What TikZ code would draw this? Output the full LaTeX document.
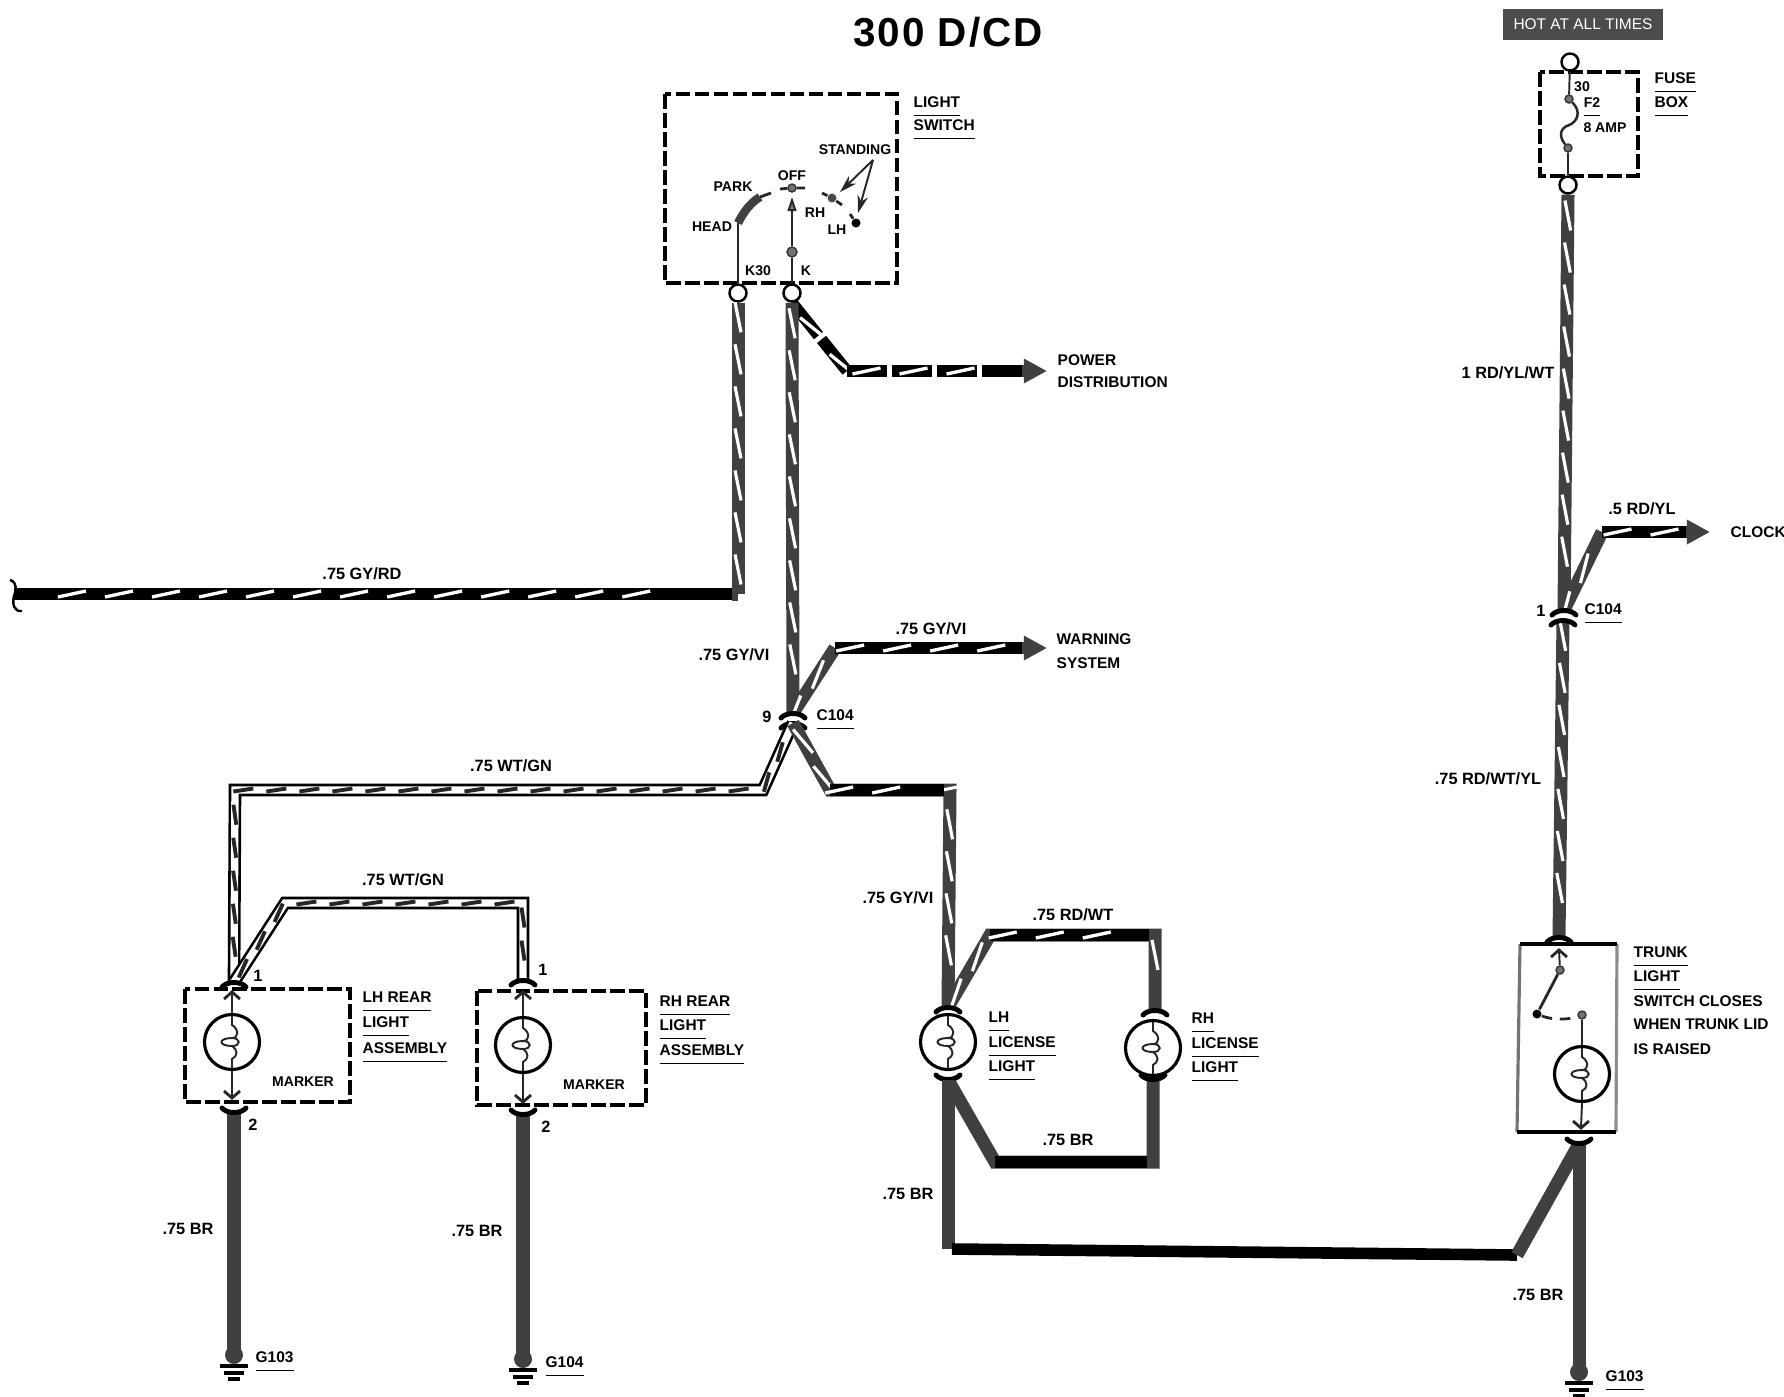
\documentclass[tikz,border=0pt]{standalone}
\usepackage{fontspec}
\setmainfont{Liberation Sans}
\usetikzlibrary{arrows.meta,decorations.markings}
\definecolor{wiregray}{gray}{0.25}
\newcommand{\ul}[1]{\underline{\rule[-0.7pt]{0pt}{1pt}#1}}

\begin{document}
\begin{tikzpicture}[x=0.01cm,y=-0.01cm]
    \tikzset{
        lbl/.style={inner sep=0pt,anchor=mid,yshift=0.95pt,font=\fontsize{4.65}{6}\selectfont\bfseries},
        lbls/.style={inner sep=0pt,anchor=mid,yshift=0.95pt,font=\fontsize{4}{5}\selectfont\bfseries},
        lblw/.style={inner sep=0pt,anchor=mid west,yshift=0.95pt,font=\fontsize{4.4}{6}\selectfont\bfseries},
        wgray/.style={draw=wiregray,line width=3.7pt,line join=miter},
        wblack/.style={draw=black,line width=3.3pt},
        wwhite/.style={draw=black,line width=3.6pt,postaction={draw=white,line width=2.1pt}},
        hslash/.style={postaction={decorate,decoration={markings,mark=between positions #1 and 0.9 step 0.47cm with {\draw[white,solid,-,line width=0.95pt] (-14,3)--(14,-3);}}}},
        hslash/.default=0.08,
        vslash/.style={postaction={decorate,decoration={markings,mark=between positions 0.05 and 0.94 step 0.42cm with {\draw[white,solid,-,line width=0.9pt] (-15,3)--(15,-3);}}}},
        gnslash/.style={postaction={decorate,decoration={markings,mark=between positions 0.04 and 0.97 step 0.33cm with {\draw[black!85,solid,-,line width=1.1pt] (-10,1.5)--(10,-1.5);}}}},
        dbox/.style={draw=black,line width=1.3pt,dash pattern=on 4.2pt off 1.2pt},
        tline/.style={draw=black!85,line width=0.55pt},
        term/.style={circle,draw=black,fill=white,line width=0.7pt,inner sep=0pt,minimum size=0.17cm},
        dotn/.style={circle,draw=black!80,fill=black!55,line width=0.4pt,inner sep=0pt,minimum size=0.08cm},
        lamp/.style={circle,draw=black,line width=0.9pt,inner sep=0pt,minimum size=0.55cm},
        tipg/.style={-{Triangle[length=6.6pt,width=6.6pt,color=wiregray]}},
        pics/cupd/.style={code={\draw[black,line width=1.4pt,line cap=round] (-12,5) .. controls (-7,-1) and (7,-1) .. (12,5);}},
        pics/cupu/.style={code={\draw[black,line width=1.4pt,line cap=round] (-12,-5) .. controls (-7,1) and (7,1) .. (12,-5);}},
        pics/vee/.style={code={\draw[tline,line width=0.8pt] (-8,-7) -- (0,0) -- (8,-7);}},
        pics/hat/.style={code={\draw[tline,line width=0.8pt] (-8,7) -- (0,0) -- (8,7);}},
        pics/filament/.style={code={
            \draw[tline] (0,-26) -- (0,-17) .. controls (7,-13) and (7,-4) .. (0,-4) .. controls (-14,-4) and (-14,4) .. (0,4) .. controls (9,4) and (9,-4) .. (0,-4);
            \draw[tline] (0,4) .. controls (6,8) and (6,14) .. (0,17) -- (0,26);}},
        pics/gnd/.style={code={
            \fill[wiregray] (0,-3) circle (9);
            \draw[black,line width=0.9pt] (-14,8) -- (14,8) (-10,15) -- (10,15) (-6,21) -- (6,21);}},
    }
    \useasboundingbox (0,0) rectangle (1784,1396);
    % title and hot bar
    \node[inner sep=0pt,font=\fontsize{11.5}{14}\selectfont\bfseries\addfontfeatures{LetterSpace=5}] (title) at (948,32) {300 D/CD};
    \node[fill=black!70,text=white,inner sep=0pt,minimum width=1.6cm,minimum height=0.31cm,font=\fontsize{4.4}{6}\selectfont] (hot) at (1583,24) {HOT AT ALL TIMES};

    % light switch
    \draw[dbox] (665,94) rectangle (897,283);
    \node[term] (k30) at (738,293) {};
    \node[term] (kk) at (792,293) {};
    \node[dotn,minimum size=0.1cm] (dotk) at (792,252) {};
    \node[dotn] (dotoff) at (792,188) {};
    \node[circle,fill=black!70,inner sep=0pt,minimum size=0.09cm] (dotrh) at (832,198) {};
    \node[circle,fill=black,inner sep=0pt,minimum size=0.09cm] (dotlh) at (856,223) {};
    \coordinate (headpt) at (738,223);
    \coordinate (parkpt) at (760,197);
    \draw[tline] (k30) -- (headpt);
    \draw[wiregray,line width=2.4pt] (headpt) .. controls (743,213) and (750,203) .. (parkpt);
    \draw[tline,line width=0.8pt] (parkpt) -- (771,193);
    \draw[tline] (kk) -- (dotk);
    \draw[tline,-{Triangle[length=4pt,width=2.5pt,fill=black!50]}] (dotk) -- (792,197);
    \draw[tline,line width=0.8pt] (780,189) -- (dotoff) -- (805,188);
    \draw[tline,line width=0.8pt] (822,193) -- (dotrh) -- (842,205);
    \draw[tline,line width=0.8pt] (850,214) -- (dotlh);
    \coordinate (stdpt) at (873,160);
    \draw[tline,-{Stealth[length=5pt,width=3pt]}] (stdpt) -- (840,192);
    \draw[tline,-{Stealth[length=5pt,width=3pt]}] (stdpt) -- (858,213);
    \node[lbls] (lblstd) at (855,149) {STANDING};
    \node[lbls] (lblpark) at (733,186) {PARK};
    \node[lbls] (lblhead) at (712,226) {HEAD};
    \node[lbls] (lbloff) at (792,175) {OFF};
    \node[lbls] (lblrh) at (815,212) {RH};
    \node[lbls] (lbllh) at (837,229) {LH};
    \node[lbls] (lblk30) at (758,270) {K30};
    \node[lbls] (lblk) at (806,270) {K};
    \node[lblw] (lblsw1) at (913,102) {\ul{LIGHT}};
    \node[lblw] (lblsw2) at (913,125) {\ul{SWITCH}};

    % wires from the switch
    \coordinate (leftend) at (14,594);
    \coordinate (k30c) at (738,594);
    \coordinate (cupa) at (793,713);
    \coordinate (cupb) at (793,723);
    \coordinate (pwa) at (847,371);
    \coordinate (pwb) at (1047,371);
    \coordinate (wna) at (835,648);
    \coordinate (wnb) at (1047,648);
    \draw[wgray,vslash] (k30.south) -- (k30c);
    \draw[wblack,hslash] (leftend) -- (k30c);
    \draw[wgray] (732,594) -- (k30c);
    \draw[black,line width=0.7pt] (10,580) .. controls (18,582) and (16,592) .. (14,596) .. controls (12,604) and (14,612) .. (22,611);
    \draw[wblack,hslash=0.35,dash pattern=on 12pt off 1.4pt] (kk.south) -- (pwa);
    \draw[wblack,hslash=0.11,dash pattern=on 11.25pt off 1.56pt] (pwa) -- (1024,371);
    \draw[tipg,wiregray,line width=3.3pt] (1022,371) -- (pwb);
    \draw[wgray,vslash] (kk.south) -- (cupa);
    \draw[wgray,vslash] (cupa) -- (wna);
    \draw[wblack,hslash] (wna) -- (1024,648);
    \draw[tipg,wiregray,line width=3.3pt] (1022,648) -- (wnb);
    \pic at (cupa) {cupd};
    \pic at (cupb) {cupd};
    \node[lblw] (lblpw1) at (1057,360) {POWER};
    \node[lblw] (lblpw2) at (1057,382) {DISTRIBUTION};
    \node[lblw] (lblwn1) at (1056,639) {WARNING};
    \node[lblw] (lblwn2) at (1056,663) {SYSTEM};
    \node[lbl] (lblgyrd) at (362,574) {.75 GY/RD};
    \node[lbl] (lblgy1) at (734,655) {.75 GY/VI};
    \node[lbl] (lblgy2) at (931,629) {.75 GY/VI};
    \node[lbl] (lblnine) at (767,717) {9};
    \node[lblw] (lblc1) at (816,715) {\ul{C104}};

    % rear lights
    \draw[dbox] (185,989) rectangle (350,1102);
    \draw[dbox] (477,991) rectangle (646,1105);
    \node[lamp] (lamplh) at (232,1042) {};
    \node[lamp] (lamprh) at (523,1045) {};
    \pic at (lamplh) {filament};
    \pic at (lamprh) {filament};
    \coordinate (lhtop) at (234,982);
    \coordinate (rhtop) at (523,980);
    \coordinate (lhlow) at (234,1113);
    \coordinate (rhlow) at (523,1115);
    \coordinate (wha) at (763,790);
    \coordinate (whb) at (235,790);
    \coordinate (wrb) at (285,903);
    \coordinate (wrc) at (523,903);
    \draw[wwhite,gnslash] (cupb) -- (wha) -- (whb) -- (lhtop);
    \draw[wwhite,gnslash] (lhtop) -- (wrb) -- (wrc) -- (rhtop);
    \pic at (lhtop) {cupd};
    \pic at (rhtop) {cupd};
    \draw[tline] (232,992) -- (lamplh.north);
    \draw[tline] (lamplh.south) -- (232,1098);
    \draw[tline] (523,992) -- (lamprh.north);
    \draw[tline] (lamprh.south) -- (523,1102);
    \pic at (232,992) {hat};
    \pic at (232,1098) {vee};
    \pic at (523,992) {hat};
    \pic at (523,1102) {vee};
    \coordinate (gnda) at (234,1358);
    \coordinate (gndb) at (523,1362);
    \draw[wgray] (lhlow) -- (gnda);
    \draw[wgray] (rhlow) -- (gndb);
    \pic at (lhlow) {cupu};
    \pic at (rhlow) {cupu};
    \pic at (gnda) {gnd};
    \pic at (gndb) {gnd};
    \node[lbl] (lblwg1) at (511,766) {.75 WT/GN};
    \node[lbl] (lblwg2) at (403,880) {.75 WT/GN};
    \node[lbl] (lblone1) at (258,976) {1};
    \node[lbl] (lblone2) at (543,970) {1};
    \node[lbl] (lbltwo1) at (253,1125) {2};
    \node[lbl] (lbltwo2) at (546,1127) {2};
    \node[lbls] (lblmk1) at (303,1081) {MARKER};
    \node[lbls] (lblmk2) at (594,1084) {MARKER};
    \node[lblw] (lbllr1) at (362,997) {\ul{LH REAR}};
    \node[lblw] (lbllr2) at (362,1022) {\ul{LIGHT}};
    \node[lblw] (lbllr3) at (362,1048) {\ul{ASSEMBLY}};
    \node[lblw] (lblrr1) at (659,1001) {\ul{RH REAR}};
    \node[lblw] (lblrr2) at (659,1025) {\ul{LIGHT}};
    \node[lblw] (lblrr3) at (659,1050) {\ul{ASSEMBLY}};
    \node[lbl] (lblbr1) at (188,1229) {.75 BR};
    \node[lbl] (lblbr2) at (477,1231) {.75 BR};
    \node[lblw] (lblg1) at (255,1357) {\ul{G103}};
    \node[lblw] (lblg2) at (545,1362) {\ul{G104}};

    % license lights
    \node[lamp] (lampa) at (948,1042) {};
    \node[lamp] (lampb) at (1153,1048) {};
    \pic at (lampa) {filament};
    \pic at (lampb) {filament};
    \coordinate (gya) at (830,790);
    \coordinate (gyb) at (950,790);
    \coordinate (lica) at (948,1007);
    \coordinate (licb) at (1155,1010);
    \coordinate (rwa) at (990,935);
    \coordinate (rwb) at (1155,935);
    \coordinate (lowa) at (948,1080);
    \coordinate (lowb) at (1153,1080);
    \coordinate (bra) at (995,1162);
    \coordinate (brb) at (1153,1162);
    \draw[wgray,vslash] (cupb) -- (gya) -- (gyb) -- (lica);
    \draw[wblack,hslash] (gya) -- (944,790);
    \draw[wgray,vslash] (lica) -- (rwa) -- (rwb) -- (licb);
    \draw[wblack,hslash] (rwa) -- (1149,935);
    \draw[wgray] (lowa) -- (bra) -- (brb) -- (lowb);
    \draw[wblack] (bra) -- (1147,1162);
    \pic at (lica) {cupd};
    \pic at (licb) {cupd};
    \pic at (lowa) {cupu};
    \pic at (lowb) {cupu};
    \node[lbl] (lblgy3) at (898,898) {.75 GY/VI};
    \node[lbl] (lblrw) at (1073,915) {.75 RD/WT};
    \node[lbl] (lblbr3) at (1068,1140) {.75 BR};
    \node[lbl] (lblbr4) at (908,1194) {.75 BR};
    \node[lblw] (lbllc1) at (988,1017) {\ul{LH}};
    \node[lblw] (lbllc2) at (988,1042) {\ul{LICENSE}};
    \node[lblw] (lbllc3) at (988,1066) {\ul{LIGHT}};
    \node[lblw] (lblrc1) at (1191,1018) {\ul{RH}};
    \node[lblw] (lblrc2) at (1191,1043) {\ul{LICENSE}};
    \node[lblw] (lblrc3) at (1191,1067) {\ul{LIGHT}};

    % fuse box
    \draw[dbox] (1540,72) rectangle (1638,176);
    \node[term] (fusetop) at (1570,62) {};
    \node[term] (fuselow) at (1568,185) {};
    \node[dotn] (fdota) at (1569,99) {};
    \node[dotn] (fdotb) at (1568,148) {};
    \draw[tline] (fusetop) -- (fdota);
    \draw[tline,line width=0.7pt] (fdota) .. controls (1582,112) and (1577,122) .. (1569,125) .. controls (1558,129) and (1560,138) .. (fdotb);
    \draw[tline] (fdotb) -- (fuselow);
    \node[lbls] (lbl30) at (1582,86) {30};
    \node[lbls] (lblf2) at (1592,102) {\ul{F2}};
    \node[lbls] (lblamp) at (1605,127) {8 AMP};
    \node[lblw] (lblfb1) at (1654,78) {\ul{FUSE}};
    \node[lblw] (lblfb2) at (1654,102) {\ul{BOX}};

    % right side feed
    \coordinate (cupc) at (1564,610);
    \coordinate (cupe) at (1563,620);
    \coordinate (clka) at (1602,532);
    \coordinate (clkb) at (1710,532);
    \coordinate (trtop) at (1559,937);
    \draw[wgray,vslash] (fuselow.south) -- (cupc);
    \draw[wgray,vslash] (cupc) -- (clka);
    \draw[wblack,hslash=0.18] (clka) -- (1688,532);
    \draw[tipg,wiregray,line width=3.3pt] (1686,532) -- (clkb);
    \draw[wgray,vslash] (cupe) -- (trtop);
    \pic at (cupc) {cupd};
    \pic at (cupe) {cupd};
    \pic at (trtop) {cupd};
    \node[lbl] (lblfd1) at (1508,373) {1 RD/YL/WT};
    \node[lbl] (lblfd2) at (1642,509) {.5 RD/YL};
    \node[lblw] (lblclk) at (1730,532) {CLOCK};
    \node[lbl] (lblone3) at (1541,611) {1};
    \node[lblw] (lblc2) at (1584,609) {\ul{C104}};
    \node[lbl] (lblfd3) at (1488,779) {.75 RD/WT/YL};

    % trunk light
    \draw[draw=black!55,line width=0.9pt] (1520,944) -- (1517,1132);
    \draw[draw=black!45,line width=0.9pt] (1617,944) -- (1616,1132);
    \draw[black,line width=1.2pt] (1520,944) -- (1617,944);
    \draw[black,line width=1.2pt] (1517,1132) -- (1616,1132);
    \node[dotn] (trdota) at (1560,970) {};
    \node[circle,fill=black,inner sep=0pt,minimum size=0.09cm] (trdotb) at (1537,1014) {};
    \node[dotn] (trdotc) at (1582,1015) {};
    \node[lamp] (lampt) at (1582,1074) {};
    \pic at (lampt) {filament};
    \draw[tline] (1559,950) -- (trdota);
    \pic at (1559,950) {hat};
    \draw[tline,line width=0.8pt] (trdota) -- (trdotb);
    \draw[tline,line width=0.8pt,dash pattern=on 3pt off 2.2pt] (trdotb) .. controls (1552,1020) and (1568,1020) .. (trdotc);
    \draw[tline] (trdotc) -- (lampt.north);
    \draw[tline] (lampt.south) -- (1581,1128);
    \pic at (1581,1128) {vee};
    \coordinate (trlow) at (1579,1144);
    \coordinate (gndc) at (1579,1375);
    \coordinate (btb) at (948,1249);
    \coordinate (btc) at (1517,1255);
    \draw[wgray] (lowa) -- (btb);
    \draw[wblack] (952,1249) -- (btc);
    \draw[wgray] (btc) -- (trlow);
    \draw[wgray] (trlow) -- (gndc);
    \pic at (trlow) {cupu};
    \pic at (gndc) {gnd};
    \node[lbl] (lblbr5) at (1538,1295) {.75 BR};
    \node[lblw] (lblg3) at (1605,1376) {\ul{G103}};
    \node[lblw] (lbltr1) at (1633,952) {\ul{TRUNK}};
    \node[lblw] (lbltr2) at (1633,976) {\ul{LIGHT}};
    \node[lblw] (lbltr3) at (1633,1001) {SWITCH CLOSES};
    \node[lblw] (lbltr4) at (1633,1024) {WHEN TRUNK LID};
    \node[lblw] (lbltr5) at (1633,1049) {IS RAISED};
\end{tikzpicture}
\end{document}
